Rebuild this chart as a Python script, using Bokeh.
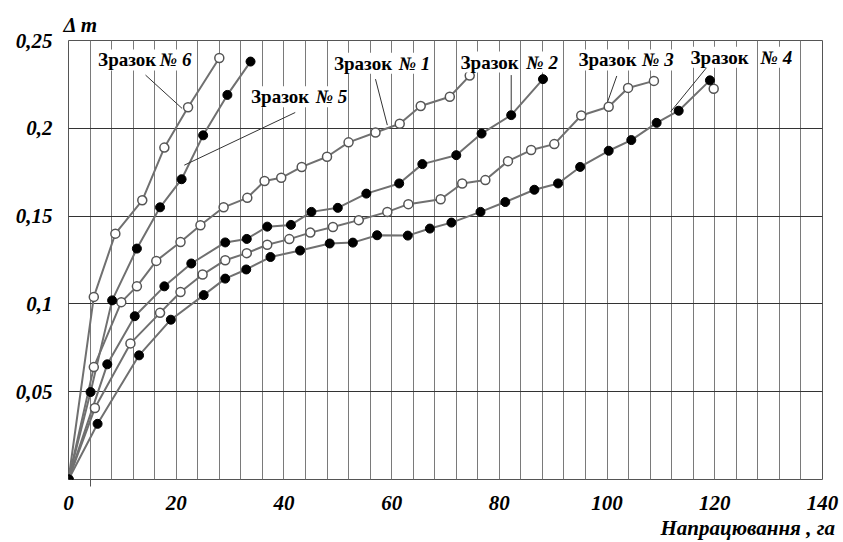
from bokeh.plotting import figure
from bokeh.models import FixedTicker, Label, Title
from bokeh.embed import file_html
from bokeh.resources import INLINE

# ---- data ----
s1_x = [0, 4.7, 9.8, 12.7, 16.3, 20.8, 24.5, 28.8, 33.2, 36.4, 39.5, 43.3, 48.0, 52.0, 57.0, 61.5, 65.4, 70.8, 74.5]
s1_y = [0, 0.064, 0.101, 0.110, 0.1245, 0.1353, 0.1448, 0.155, 0.1604, 0.170, 0.1718, 0.178, 0.1838, 0.192, 0.1976, 0.2026, 0.2127, 0.218, 0.230]

s2_x = [0, 7.2, 12.3, 17.8, 22.8, 29.1, 33.1, 36.9, 41.3, 45.1, 50.0, 55.3, 61.4, 65.7, 72.0, 76.7, 82.2, 88.1]
s2_y = [0, 0.0656, 0.093, 0.110, 0.123, 0.135, 0.137, 0.144, 0.145, 0.1524, 0.1547, 0.1628, 0.1686, 0.1796, 0.1847, 0.197, 0.2075, 0.228]

s3_x = [0, 4.9, 11.5, 17.0, 20.8, 24.9, 29.1, 33.1, 36.9, 41.0, 44.9, 49.1, 53.9, 59.2, 63.1, 69.1, 73.1, 77.4, 81.6, 85.9, 90.2, 95.2, 100.3, 103.9, 108.7]
s3_y = [0, 0.0407, 0.0775, 0.0949, 0.1068, 0.1167, 0.1249, 0.1289, 0.1337, 0.1369, 0.1406, 0.1438, 0.1477, 0.1524, 0.1568, 0.1596, 0.1686, 0.1705, 0.1813, 0.1876, 0.191, 0.2073, 0.2123, 0.223, 0.227]

s4_x = [0, 5.4, 13.1, 19.0, 25.1, 29.1, 33.0, 37.5, 43.0, 48.5, 52.8, 57.3, 63.0, 67.1, 71.1, 76.5, 81.1, 86.5, 90.9, 95.0, 100.3, 104.5, 109.2, 113.3, 119.1]
s4_y = [0, 0.0317, 0.0707, 0.091, 0.105, 0.1144, 0.1196, 0.1267, 0.1304, 0.1344, 0.1349, 0.1391, 0.1389, 0.1429, 0.1463, 0.1524, 0.158, 0.165, 0.1686, 0.178, 0.1872, 0.1933, 0.2031, 0.210, 0.2273]
s4_open_x = [119.8]
s4_open_y = [0.2225]

s5_x = [0, 4.1, 8.1, 12.7, 17.0, 21.0, 25.0, 29.5, 33.8]
s5_y = [0, 0.0498, 0.102, 0.1315, 0.155, 0.171, 0.196, 0.219, 0.238]

s6_x = [0, 4.7, 8.7, 13.7, 17.8, 22.2, 28.0]
s6_y = [0, 0.104, 0.140, 0.159, 0.189, 0.212, 0.240]

sample_words = ["Зразок"] * 6
sample_numbers = ["№ 1", "№ 2", "№ 3", "№ 4", "№ 5", "№ 6"]

x_ticks = [0, 20, 40, 60, 80, 100, 120, 140]
x_tick_labels = ["0", "20", "40", "60", "80", "100", "120", "140"]
y_ticks = [0.05, 0.1, 0.15, 0.2, 0.25]
y_tick_labels = ["0,05", "0,1", "0,15", "0,2", "0,25"]
x_title = "Напрацювання , га"
y_title = "Δ m"

# ---- layout positions for annotations (data coords) ----
word_x = [49.3, 72.8, 94.7, 115.5, 33.9, 5.5]
num_x = [61.3, 85.0, 106.5, 128.5, 45.9, 16.95]
lab_y = [0.237, 0.2377, 0.2389, 0.2404, 0.218, 0.2389]
lead_x0 = [57.0, 82.2, 101.8, 118.6, 42.1, 14.3]
lead_y0 = [0.228, 0.2303, 0.2298, 0.235, 0.209, 0.2303]
lead_x1 = [59.2, 82.2, 100.0, 111.8, 21.5, 21.1]
lead_y1 = [0.2018, 0.2104, 0.2142, 0.2094, 0.179, 0.2113]

SERIF = "Liberation Serif"

p = figure(width=843, height=542, x_range=(0, 140), y_range=(0, 0.25),
           output_backend="svg", toolbar_location=None,
           min_border_left=68, min_border_right=21, min_border_top=40, min_border_bottom=63)
p.background_fill_color = "white"
p.border_fill_color = "white"
p.outline_line_color = "#555555"
p.outline_line_width = 1

# y title (top-left)
p.title.text = y_title
p.title.align = "left"
p.title.offset = -5
p.title.text_font = SERIF
p.title.text_font_style = "bold italic"
p.title.text_font_size = "21px"
p.title.text_color = "black"
p.title.standoff = 7

# x title (bottom-right)
p.add_layout(Title(text=x_title, align="left", offset=592, text_font=SERIF,
                   text_font_style="bold italic", text_font_size="21px",
                   text_color="black", standoff=2), "below")

# grid
p.xgrid.ticker = FixedTicker(ticks=list(range(0, 141, 4)))
p.xgrid.grid_line_color = "#7a7a7a"
p.xgrid.grid_line_width = 1
p.ygrid.ticker = FixedTicker(ticks=y_ticks)
p.ygrid.grid_line_color = "#333333"
p.ygrid.grid_line_width = 1

# axes
p.xaxis.ticker = FixedTicker(ticks=x_ticks, minor_ticks=[4])
p.xaxis.major_label_overrides = dict(zip(x_ticks, x_tick_labels))
p.yaxis.ticker = FixedTicker(ticks=y_ticks)
p.yaxis.major_label_overrides = dict(zip(y_ticks, y_tick_labels))
for ax in (p.xaxis, p.yaxis):
    ax.axis_line_color = None
    ax.major_tick_line_color = None
    ax.major_tick_out = 0
    ax.major_tick_in = 0
    ax.major_label_text_font = SERIF
    ax.major_label_text_font_style = "bold italic"
    ax.major_label_text_font_size = "21px"
    ax.major_label_text_color = "black"
p.xaxis.minor_tick_line_color = "#555555"
p.xaxis.minor_tick_out = 7
p.xaxis.minor_tick_in = 0
p.yaxis.minor_tick_line_color = None
p.xaxis.major_label_standoff = 9
p.yaxis.major_label_standoff = 16

# curves
LINE = "#707070"
for xs, ys in [(s1_x, s1_y), (s2_x, s2_y), (s3_x, s3_y), (s4_x, s4_y), (s5_x, s5_y), (s6_x, s6_y)]:
    p.line(xs, ys, line_color=LINE, line_width=2)

# leader lines
p.segment(lead_x0, lead_y0, lead_x1, lead_y1, line_color="#333333", line_width=1)

# markers
for xs, ys in [(s1_x, s1_y), (s3_x, s3_y), (s6_x, s6_y), (s4_open_x, s4_open_y)]:
    p.scatter(xs, ys, marker="circle", size=9, fill_color="white", line_color="#555555", line_width=1.5)
for xs, ys in [(s2_x, s2_y), (s4_x, s4_y), (s5_x, s5_y)]:
    p.scatter(xs, ys, marker="circle", size=9, fill_color="black", line_color="black", line_width=1)

# sample labels
for i in range(6):
    p.add_layout(Label(x=word_x[i], y=lab_y[i], text=sample_words[i], text_font=SERIF,
                       text_font_style="bold", text_font_size="19px", text_baseline="middle",
                       text_color="black", background_fill_color="white"))
    p.add_layout(Label(x=num_x[i], y=lab_y[i], text=sample_numbers[i], text_font=SERIF,
                       text_font_style="bold italic", text_font_size="19px", text_baseline="middle",
                       text_color="black", background_fill_color="white"))

open("out.html", "w").write(file_html(p, INLINE))
